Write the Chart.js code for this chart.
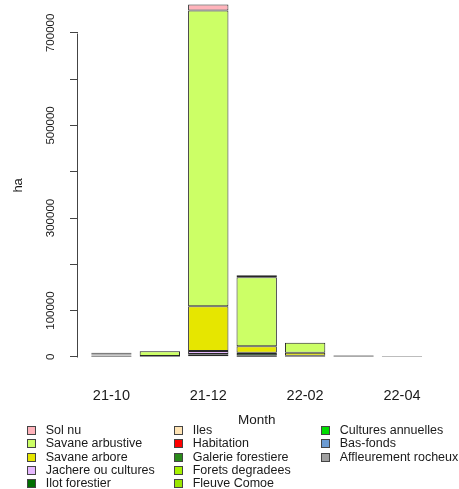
<!DOCTYPE html>
<html><head><meta charset="utf-8">
<script src="https://cdn.jsdelivr.net/npm/chart.js@4/dist/chart.umd.min.js"></script>
<style>
html,body{margin:0;padding:0;background:#fff;}
#wrap{position:relative;width:459px;height:489px;overflow:hidden;}
#legend{position:absolute;left:27px;top:424px;display:grid;grid-template-columns:147px 147px 138px;grid-template-rows:repeat(5,13.3px);grid-auto-flow:column;font-family:"Liberation Sans",Arial,sans-serif;font-size:12.5px;color:#1a1a1a;}
.item{display:flex;align-items:center;white-space:nowrap;height:13.3px;line-height:13.3px;}
.sw{width:9px;height:9px;box-sizing:border-box;border:1px solid #444;margin-right:9.7px;flex:none;}
</style></head><body>
<div id="wrap"><canvas id="c" width="459" height="489"></canvas><div id="legend"></div></div>
<script>
// ---- data (ha) ----
const categories = ['21-10','21-11','21-12','22-01','22-02','22-03','22-04'];
const xTickLabels = ['21-10','21-12','22-02','22-04'];
const yTicks = [0,100000,200000,300000,400000,500000,600000,700000];
const yTickLabels = [0,100000,300000,500000,700000];

const affleurementRocheux = [300, 0, 5500, 0, 0, 0, 0];
const basFonds            = [400, 0, 0, 0, 0, 0, 0];
const culturesAnnuelles   = [1800, 200, 300, 300, 200, 500, 200];
const fleuveComoe         = [300, 0, 0, 0, 0, 0, 0];
const foretsDegradees     = [900, 200, 0, 0, 0, 0, 0];
const galerieForestiere   = [1200, 200, 300, 3000, 800, 500, 0];
const habitation          = [400, 0, 0, 0, 0, 0, 0];
const iles                = [200, 0, 0, 0, 0, 0, 0];
const ilotForestier       = [900, 200, 300, 5000, 1000, 500, 100];
const jachereOuCultures   = [1200, 200, 6000, 500, 300, 400, 0];
const savaneArbore        = [500, 600, 97000, 14000, 6500, 600, 200];
const savaneArbustive     = [400, 10500, 639000, 149000, 21500, 800, 300];
const solNu               = [200, 300, 13000, 4500, 300, 200, 0];

const FONT = '"Liberation Sans", Arial, sans-serif';
const series = [
  ['Affleurement rocheux', affleurementRocheux, '#A0A0A0'],
  ['Bas-fonds', basFonds, '#6C9BD2'],
  ['Cultures annuelles', culturesAnnuelles, '#00DD00'],
  ['Fleuve Comoe', fleuveComoe, '#99E600'],
  ['Forets degradees', foretsDegradees, '#A6F200'],
  ['Galerie forestiere', galerieForestiere, '#2A8A1A'],
  ['Habitation', habitation, '#FF0000'],
  ['Iles', iles, '#FFE4B5'],
  ['Ilot forestier', ilotForestier, '#006E00'],
  ['Jachere ou cultures', jachereOuCultures, '#E6B8FF'],
  ['Savane arbore', savaneArbore, '#E6E600'],
  ['Savane arbustive', savaneArbustive, '#CCFF66'],
  ['Sol nu', solNu, '#FFB3BB']
];

const yAxisLine = {
  id: 'yAxisLine',
  afterDraw(chart) {
    const s = chart.scales.y, ctx = chart.ctx;
    const x = Math.round(s.right) - 0.5;
    ctx.save();
    ctx.strokeStyle = '#444'; ctx.lineWidth = 1;
    ctx.beginPath();
    ctx.moveTo(x, Math.round(s.getPixelForValue(yTicks[0])) + 0.5);
    ctx.lineTo(x, Math.round(s.getPixelForValue(yTicks[yTicks.length - 1])) + 0.5);
    ctx.stroke();
    ctx.restore();
  }
};

const chart = new Chart(document.getElementById('c'), {
  type: 'bar',
  data: {
    labels: categories.map((c, i) => i),
    datasets: series.map(([name, vals, col]) => ({
      label: name, data: vals, backgroundColor: col,
      borderColor: '#262626', borderWidth: 1, borderSkipped: false,
      barPercentage: 0.833, categoryPercentage: 1
    }))
  },
  options: {
    responsive: false, animation: false, devicePixelRatio: 1,
    layout: { padding: { left: 0, top: 0, right: 23.6, bottom: 60.25 } },
    plugins: { legend: { display: false }, tooltip: { enabled: false } },
    scales: {
      x: {
        type: 'linear', min: -0.69, max: 6.69, stacked: true, offset: false,
        grid: { display: false }, border: { display: false },
        afterBuildTicks: s => { s.ticks = categories.map((c, i) => ({ value: i })); },
        ticks: {
          autoSkip: false, minRotation: 0, maxRotation: 0, padding: 9,
          font: { family: FONT, size: 14.5 }, color: '#1a1a1a',
          callback: v => xTickLabels.includes(categories[v]) ? categories[v] : ''
        },
        title: { display: true, text: 'Month', font: { family: FONT, size: 13.5 }, color: '#1a1a1a', padding: { top: 0, bottom: 0 } },
        afterFit: s => { s.height = 58; s.paddingLeft = 0; s.paddingRight = 0; }
      },
      y: {
        type: 'linear', stacked: true, min: -30000, max: 771000,
        afterBuildTicks: s => { s.ticks = yTicks.map(v => ({ value: v })); },
        grid: { display: true, drawOnChartArea: false, drawTicks: true, tickLength: 8, color: '#444', tickColor: '#444', lineWidth: 1 },
        border: { display: false },
        ticks: {
          autoSkip: false, minRotation: 90, maxRotation: 90, crossAlign: 'center', padding: 0,
          font: { family: FONT, size: 11.5 }, color: '#1a1a1a',
          callback: v => yTickLabels.includes(v) ? String(v) : ''
        },
        title: { display: true, text: 'ha', font: { family: FONT, size: 13 }, color: '#1a1a1a', padding: { top: 11, bottom: 0 } },
        afterFit: s => { s.width = 78; s.paddingTop = 0; s.paddingBottom = 0; }
      }
    }
  },
  plugins: [yAxisLine]
});

// HTML legend (column-major, top of stack first) built from the chart's datasets
const legendEl = document.getElementById('legend');
chart.data.datasets.slice().reverse().forEach(ds => {
  const it = document.createElement('div'); it.className = 'item';
  const sw = document.createElement('span'); sw.className = 'sw'; sw.style.background = ds.backgroundColor;
  const tx = document.createElement('span'); tx.textContent = ds.label;
  it.appendChild(sw); it.appendChild(tx); legendEl.appendChild(it);
});
</script>
</body></html>
